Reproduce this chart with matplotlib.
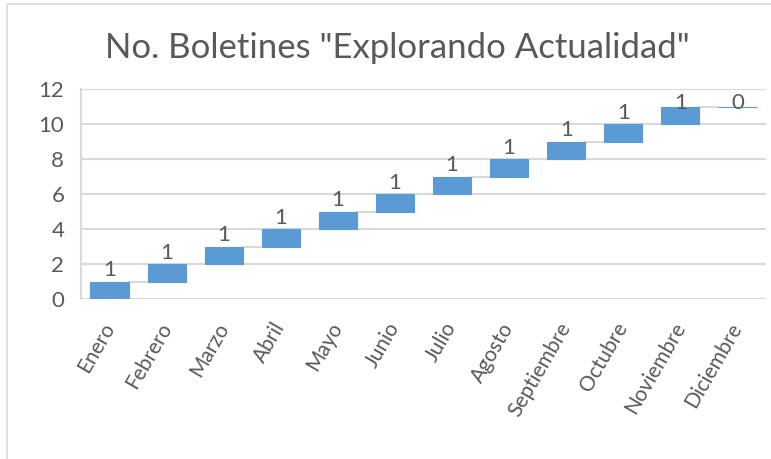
"""Waterfall chart: No. Boletines "Explorando Actualidad"."""
import matplotlib.pyplot as plt
from matplotlib.patches import Rectangle

months = ["Enero", "Febrero", "Marzo", "Abril", "Mayo", "Junio", "Julio",
          "Agosto", "Septiembre", "Octubre", "Noviembre", "Diciembre"]
boletines = [1, 1, 1, 1, 1, 1, 1, 1, 1, 1, 1, 0]
y_ticks = [0, 2, 4, 6, 8, 10, 12]

BAR = "#5B9BD5"
TEXT = "#595959"
GRID = "#D9D9D9"

plt.rcParams['font.family'] = ['Lato', 'DejaVu Sans']


def plot_waterfall() -> None:
    fig = plt.figure(figsize=(7.71, 4.59), dpi=100)
    ax = fig.add_axes([81 / 771, 1 - 299 / 459, 685 / 771, 210 / 459])

    bottoms = []
    total = 0
    for v in boletines:
        bottoms.append(total)
        total += v

    x = list(range(len(months)))
    w = 0.67
    ax.bar(x, boletines, bottom=bottoms, width=w, color=BAR,
           edgecolor=BAR, linewidth=0.8, zorder=3)

    # connector lines between steps
    for i in range(len(months) - 1):
        level = bottoms[i] + boletines[i]
        ax.plot([i + w / 2, i + 1 - w / 2], [level, level],
                color=GRID, lw=1.5, zorder=2)

    # data labels
    for i, v in enumerate(boletines):
        top = bottoms[i] + v
        ax.text(i, min(top + 0.3, 10.85), str(v), ha='center', va='baseline',
                fontsize=16, color=TEXT, zorder=4)

    ax.set_xlim(-0.5, len(months) - 0.5)
    ax.set_ylim(0, 12)
    ax.set_yticks(y_ticks)
    ax.set_xticks(x)
    ax.set_xticklabels(months, rotation=60, ha='right', va='center',
                       rotation_mode='anchor')
    ax.tick_params(axis='x', length=0, pad=18, labelsize=15, labelcolor=TEXT)
    ax.tick_params(axis='y', length=0, pad=12, labelsize=16, labelcolor=TEXT)
    ax.grid(axis='y', color=GRID, lw=1.5, zorder=0)
    for s in ['top', 'right', 'bottom']:
        ax.spines[s].set_visible(False)
    ax.spines['left'].set_color(GRID)
    ax.spines['left'].set_linewidth(1.5)

    fig.text(397 / 771, 1 - 48 / 459, 'No. Boletines "Explorando Actualidad"',
             ha='center', va='center', fontsize=25, color=TEXT)

    fig.patches.append(Rectangle((7 / 771, -0.1), 1.2, 1 - 4 / 459 + 0.1,
                                 transform=fig.transFigure, fill=False,
                                 edgecolor=GRID, lw=1.2))

    fig.savefig('out.png', dpi=100)


if __name__ == '__main__':
    plot_waterfall()
